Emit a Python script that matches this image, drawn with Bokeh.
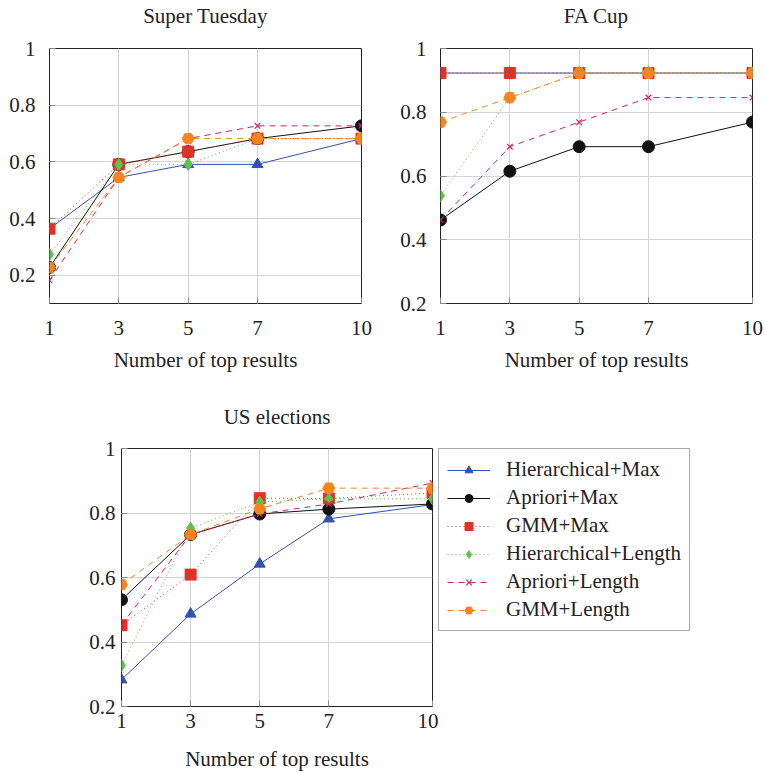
from bokeh.plotting import figure
from bokeh.layouts import column, row
from bokeh.models import Range1d, FixedTicker, Legend, LegendItem, LinearAxis
from bokeh.embed import file_html
from bokeh.resources import INLINE

# ---------------- data ----------------
x_values = [1, 3, 5, 7, 10]
x_ticks = [1, 3, 5, 7, 10]
y_ticks = [0.2, 0.4, 0.6, 0.8, 1.0]
y_tick_labels = ["0.2", "0.4", "0.6", "0.8", "1"]
x_axis_title = "Number of top results"

methods = ["Hierarchical+Max", "Apriori+Max", "GMM+Max",
           "Hierarchical+Length", "Apriori+Length", "GMM+Length"]

# Super Tuesday
st_hier_max = [0.364, 0.545, 0.591, 0.591, 0.682]
st_apriori_max = [0.227, 0.591, 0.636, 0.682, 0.727]
st_gmm_max = [0.364, 0.591, 0.636, 0.682, 0.682]
st_hier_len = [0.273, 0.591, 0.591, 0.682, 0.682]
st_apriori_len = [0.182, 0.545, 0.682, 0.727, 0.727]
st_gmm_len = [0.227, 0.545, 0.682, 0.682, 0.682]

# FA Cup
fa_hier_max = [0.923, 0.923, 0.923, 0.923, 0.923]
fa_apriori_max = [0.462, 0.615, 0.692, 0.692, 0.769]
fa_gmm_max = [0.923, 0.923, 0.923, 0.923, 0.923]
fa_hier_len = [0.538, 0.846, 0.923, 0.923, 0.923]
fa_apriori_len = [0.462, 0.692, 0.769, 0.846, 0.846]
fa_gmm_len = [0.769, 0.846, 0.923, 0.923, 0.923]

# US elections
us_hier_max = [0.283, 0.487, 0.642, 0.782, 0.826]
us_apriori_max = [0.531, 0.733, 0.797, 0.812, 0.828]
us_gmm_max = [0.452, 0.609, 0.846, 0.845, 0.862]
us_hier_len = [0.327, 0.753, 0.834, 0.844, 0.844]
us_apriori_len = [0.453, 0.733, 0.797, 0.828, 0.893]
us_gmm_len = [0.578, 0.733, 0.813, 0.877, 0.877]

# ---------------- styles ----------------
FONT = "Liberation Serif"
FS = "21px"
TXT = "#222222"
colors = ["#3550b0", "#111111", "#e23226", "#5dc34a", "#d0245e", "#f7841f"]
markers = ["triangle", "circle", "square", "diamond", "x", "hex"]
msizes = [11, 12, 11, 12, 8, 12]
dashes = ["solid", "solid", "1 3", "1 3", "6 5", "6 5"]


def add_series(p, i, xs, ys):
    r1 = p.line(xs, ys, line_color=colors[i], line_width=1,
                line_dash=dashes[i])
    if markers[i] == "x":
        r2 = p.scatter(xs, ys, marker="x", size=msizes[i],
                       line_color=colors[i], line_width=1.2)
    else:
        r2 = p.scatter(xs, ys, marker=markers[i], size=msizes[i],
                       fill_color=colors[i], line_color=colors[i],
                       line_width=1)
    return r1, r2


def make_fig(title, series, ymin, width, height, bl, br, bt, bb,
             ystand, xstand, xlab_stand, tstand):
    p = figure(width=width, height=height,
               x_range=Range1d(1, 10), y_range=Range1d(ymin, 1),
               output_backend="svg", toolbar_location=None,
               min_border_left=bl, min_border_right=br,
               min_border_top=bt, min_border_bottom=bb)
    bx = p.below[0]
    ly = p.left[0]
    # chart title drawn as the label of a tick-less top axis
    top = LinearAxis(ticker=FixedTicker(ticks=[]), axis_label=title)
    top.axis_line_color = None
    top.major_tick_line_color = None
    top.minor_tick_line_color = None
    top.major_tick_in = 0
    top.major_tick_out = 0
    top.major_label_standoff = 0
    top.axis_label_standoff = tstand
    top.axis_label_text_font = FONT
    top.axis_label_text_font_size = FS
    top.axis_label_text_font_style = "normal"
    top.axis_label_text_color = TXT
    p.add_layout(top, "above")

    bx.ticker = FixedTicker(ticks=x_ticks)
    ly.ticker = FixedTicker(ticks=y_ticks)
    ly.major_label_overrides = dict(zip(y_ticks, y_tick_labels))
    bx.axis_label = x_axis_title
    bx.axis_label_text_font = FONT
    bx.axis_label_text_font_size = FS
    bx.axis_label_text_font_style = "normal"
    bx.axis_label_text_color = TXT
    bx.axis_label_standoff = xlab_stand
    bx.major_label_standoff = xstand
    ly.major_label_standoff = ystand
    for ax in (bx, ly):
        ax.major_label_text_font = FONT
        ax.major_label_text_font_size = FS
        ax.major_label_text_color = TXT
        ax.axis_line_color = None
        ax.major_tick_in = 6
        ax.major_tick_out = 0
        ax.major_tick_line_color = "#8a8a8a"
        ax.minor_tick_line_color = None
    p.xgrid.grid_line_color = "#d4d4d4"
    p.ygrid.grid_line_color = "#d4d4d4"
    p.outline_line_color = "#222222"
    p.outline_line_width = 1
    for i, ys in enumerate(series):
        add_series(p, i, x_values, ys)
    return p


f1 = make_fig("Super Tuesday",
              [st_hier_max, st_apriori_max, st_gmm_max,
               st_hier_len, st_apriori_len, st_gmm_len],
              0.1, 380, 385, 49, 19, 45, 82, 14, 17, 10, 21)
f2 = make_fig("FA Cup",
              [fa_hier_max, fa_apriori_max, fa_gmm_max,
               fa_hier_len, fa_apriori_len, fa_gmm_len],
              0.2, 384, 385, 60, 12, 45, 82, 14, 17, 10, 21)
f3 = make_fig("US elections",
              [us_hier_max, us_apriori_max, us_gmm_max,
               us_hier_len, us_apriori_len, us_gmm_len],
              0.2, 438, 388, 121, 6, 63, 67, 6, 7, 16, 20)

# legend panel (legend proxies carry no visible data of their own)
fl = figure(width=326, height=388, x_range=Range1d(0, 1), y_range=Range1d(0, 1),
            output_backend="svg", toolbar_location=None,
            min_border_left=0, min_border_right=0, min_border_top=62,
            min_border_bottom=0)
fl.axis.visible = False
fl.grid.visible = False
fl.outline_line_color = None
items = []
for i, name in enumerate(methods):
    r1, r2 = add_series(fl, i, [float("nan")], [float("nan")])
    items.append(LegendItem(label=name, renderers=[r1, r2]))

legend = Legend(items=items, location="top_left")
legend.label_text_font = FONT
legend.label_text_font_size = FS
legend.label_text_color = TXT
legend.glyph_width = 43
legend.glyph_height = 20
legend.label_height = 24
legend.label_standoff = 16
legend.spacing = 3
legend.padding = 8
legend.margin = 0
legend.border_line_color = "#555555"
legend.border_line_width = 1
legend.background_fill_color = "white"
legend.background_fill_alpha = 1
fl.add_layout(legend, "center")

layout = column(row(f1, f2), row(f3, fl))
open("out.html", "w").write(file_html(layout, INLINE))
